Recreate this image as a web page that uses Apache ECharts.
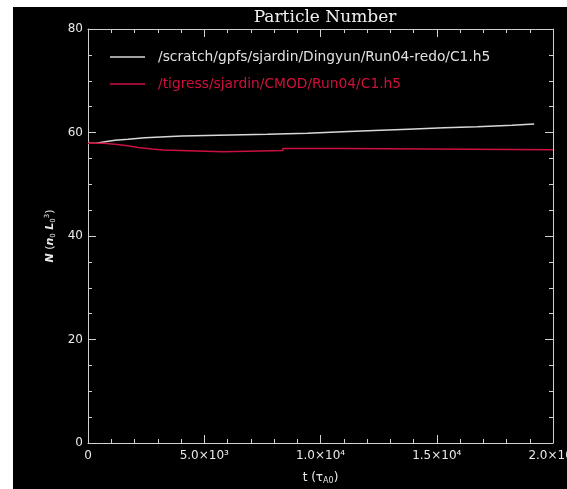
<!DOCTYPE html>
<html>
<head>
<meta charset="utf-8">
<script src="https://cdn.jsdelivr.net/npm/echarts@6/dist/echarts.min.js"></script>
<style>
html,body{margin:0;padding:0;background:#fff;overflow:hidden;}
#c{width:567px;height:489px;}
</style>
</head>
<body>
<div id="c"></div>
<script>
var titleText = 'Particle Number';
var seriesNames = ['/scratch/gpfs/sjardin/Dingyun/Run04-redo/C1.h5', '/tigress/sjardin/CMOD/Run04/C1.h5'];
// [t, N] points, step-wise
var whiteT = [0, 300, 730, 1160, 1720, 2450, 4030, 7720, 9440, 10940, 12320, 13780, 15320, 16740, 18240, 19190];
var whiteN = [57.9, 58.2, 58.5, 58.7, 59.0, 59.3, 59.65, 59.85, 60.15, 60.4, 60.65, 60.9, 61.1, 61.4, 61.65, 61.65];
var redT = [0, 700, 1250, 1700, 2150, 2750, 3240, 5800, 8380, 11030, 20000];
var redN = [57.9, 57.7, 57.45, 57.1, 56.8, 56.6, 56.3, 56.5, 56.9, 56.65, 56.65];
var xTicks = [0, 5000, 10000, 15000, 20000];
var xTickLabels = ['0', '5.0×10³', '1.0×10⁴', '1.5×10⁴', '2.0×10⁴'];
var yTicks = [0, 20, 40, 60, 80];
var yTickLabels = ['0', '20', '40', '60', '80'];

function zip(a, b) { return a.map(function (v, i) { return [v, b[i]]; }); }
var axisColor = '#d0d0d0';
var font = 'DejaVu Sans';

var chart = echarts.init(document.getElementById('c'));
function xLab(v) { var i = xTicks.indexOf(v); return i >= 0 ? xTickLabels[i] : ''; }
function yLab(v) { var i = yTicks.indexOf(v); return i >= 0 ? yTickLabels[i] : ''; }

function xAxisCfg(pos, show) {
  return {
    type: 'value', position: pos, min: 0, max: 20000, interval: 5000,
    axisLine: { show: true, onZero: false, lineStyle: { color: axisColor, width: 1 } },
    axisTick: { show: true, inside: true, length: 8, lineStyle: { color: axisColor } },
    minorTick: { show: true, splitNumber: 5, length: 4, lineStyle: { color: axisColor } },
    splitLine: { show: false },
    axisLabel: { show: show, color: '#e8e8e8', fontFamily: font, fontSize: 12, margin: 7, formatter: xLab, showMaxLabel: true, hideOverlap: false },
    name: show ? 't (τ{sub|A0})' : '',
    nameLocation: 'middle', nameGap: 28,
    nameTextStyle: { color: '#e8e8e8', fontFamily: font, fontSize: 12, rich: { sub: { fontSize: 8, verticalAlign: 'bottom', padding: [6, 0, 0, 0], color: '#e8e8e8', fontFamily: font } } }
  };
}
function yAxisCfg(pos, show) {
  return {
    type: 'value', position: pos, min: 0, max: 80, interval: 20,
    axisLine: { show: true, onZero: false, lineStyle: { color: axisColor, width: 1 } },
    axisTick: { show: true, inside: true, length: 8, lineStyle: { color: axisColor } },
    minorTick: { show: true, splitNumber: 4, length: 4, lineStyle: { color: axisColor } },
    splitLine: { show: false },
    axisLabel: { show: show, color: '#e8e8e8', fontFamily: font, fontSize: 12, margin: 5, formatter: yLab },
    name: show ? '{i|N} ({i|n}{sub|0} {i|L}{sub|0}{sup|3})' : '',
    nameLocation: 'middle', nameGap: 22, nameRotate: 90,
    nameTextStyle: { color: '#e8e8e8', fontFamily: font, fontSize: 11,
      rich: {
        i: { fontStyle: 'italic', fontWeight: 'bold', color: '#e8e8e8', fontFamily: font, fontSize: 11 },
        sub: { fontSize: 7, color: '#e8e8e8', fontFamily: font, padding: [6, 0, 0, 0] },
        sup: { fontSize: 7, color: '#e8e8e8', fontFamily: font, padding: [0, 0, 6, 0] }
      } }
  };
}

chart.setOption({
  backgroundColor: '#ffffff',
  animation: false,
  graphic: [{ type: 'rect', z: -10, shape: { x: 13, y: 7, width: 560, height: 490 }, style: { fill: '#000000' } }],
  title: {
    text: titleText, left: 320, textAlign: 'center', top: 4,
    textStyle: { color: '#f0f0f0', fontFamily: 'DejaVu Serif', fontSize: 17, fontWeight: 'normal' }
  },
  legend: {
    orient: 'vertical', left: 105, top: 45, itemWidth: 35, itemHeight: 1.5, itemGap: 13,
    icon: 'rect',
    data: [
      { name: seriesNames[0], textStyle: { color: '#e0e0e0' } },
      { name: seriesNames[1], textStyle: { color: '#d0103c' } }
    ],
    textStyle: { fontFamily: font, fontSize: 13.8, padding: [0, 0, 0, 8] }
  },
  grid: { left: 88, right: 14, top: 29, bottom: 46, containLabel: false, outerBoundsMode: 'none' },
  xAxis: [xAxisCfg('bottom', true), xAxisCfg('top', false)],
  yAxis: [yAxisCfg('left', true), yAxisCfg('right', false)],
  series: [
    { name: seriesNames[0], type: 'line', step: 'end', data: zip(whiteT, whiteN), showSymbol: false, symbol: 'none',
      lineStyle: { color: '#d8d8d8', width: 1.5 }, itemStyle: { color: '#d8d8d8' } },
    { name: seriesNames[1], type: 'line', step: 'end', data: zip(redT, redN), showSymbol: false, symbol: 'none',
      lineStyle: { color: '#cc1040', width: 1.5 }, itemStyle: { color: '#cc1040' } }
  ]
});
</script>
</body>
</html>
